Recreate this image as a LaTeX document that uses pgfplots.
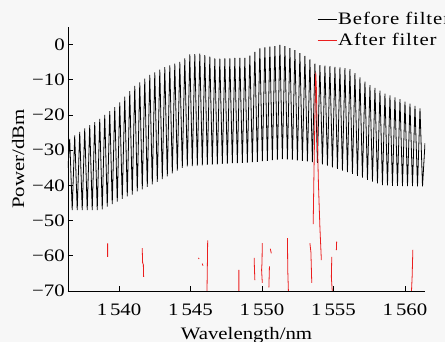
\documentclass[border=0pt]{standalone}
\usepackage{pgfplots}
\pgfplotsset{compat=1.18}
\usepackage{fontspec}
\setmainfont[FakeStretch=1.19]{Liberation Serif}
\newfontfamily\legfont[FakeStretch=1.19,LetterSpace=5]{Liberation Serif}
\definecolor{redtrace}{RGB}{235,30,30}
\begin{document}
\begin{tikzpicture}
\useasboundingbox (0pt,0pt) rectangle (445pt,342pt);
\fill[white!97!black] (0pt,0pt) rectangle (445pt,342pt);
\begin{axis}[
  at={(68pt,51pt)}, anchor=south west,
  scale only axis, width=357pt, height=264pt,
  xmin=1536.43, xmax=1561.4, ymin=-70, ymax=5,
  axis x line*=bottom, axis y line*=left,
  axis line style={line width=0.9pt},
  tick align=inside, major tick length=5pt,
  tick style={line width=0.8pt, black},
  xtick={1540,1545,1550,1555,1560},
  xticklabels={1\,540,1\,545,1\,550,1\,555,1\,560},
  ytick={-70,-60,-50,-40,-30,-20,-10,0},
  yticklabels={−70,−60,−50,−40,−30,−20,−10,0},
  tick label style={font=\fontsize{17.5}{20}\selectfont},
  xticklabel style={anchor=base, yshift=-25pt},
  yticklabel style={anchor=east, inner sep=0pt, xshift=-3pt},
  xlabel={Wavelength/nm},
  ylabel={Power/dBm},
  label style={font=\fontsize{17.5}{20}\selectfont},
  xlabel style={at={(axis description cs:0.5,-0.185)}, anchor=base},
  ylabel style={at={(axis description cs:-0.14,0.5)}, anchor=center, rotate=0},
  legend style={draw=none, fill=none, at={(axis description cs:0.697,0.99)}, anchor=west,
    inner sep=0pt, outer sep=0pt, row sep=5.3pt,
    nodes={inner sep=1pt, font=\fontsize{17.5}{20}\legfont}},
  legend cell align=left,
  legend image code/.code={\draw[#1] (0pt,0pt) -- (19pt,0pt);},
  clip=true,
]
\addlegendimage{draw=black, line width=1pt}
\addlegendentry{Before filter}
\addlegendimage{draw=redtrace, line width=1.4pt}
\addlegendentry{After filter}
\addplot[black, line width=0.8pt, forget plot] table {
1536.43 -35
1536.55 -26.8
1536.725 -47
1536.90 -25.8
1537.075 -47
1537.25 -24.8
1537.425 -47
1537.60 -23.8
1537.775 -47
1537.95 -22.9
1538.125 -47
1538.30 -22.0
1538.475 -47
1538.65 -21.1
1538.825 -46.8
1539.00 -20.0
1539.175 -46.0
1539.35 -18.9
1539.525 -45.3
1539.70 -17.8
1539.875 -44.6
1540.05 -16.4
1540.225 -43.8
1540.40 -14.8
1540.575 -43.1
1540.75 -13.2
1540.925 -42.6
1541.10 -11.7
1541.275 -41.7
1541.45 -10.7
1541.625 -41.1
1541.80 -9.7
1541.975 -40.4
1542.15 -8.6
1542.325 -39.7
1542.50 -7.9
1542.675 -39.0
1542.85 -7.1
1543.025 -38.2
1543.20 -6.4
1543.375 -37.4
1543.55 -5.9
1543.725 -36.6
1543.90 -5.4
1544.075 -35.8
1544.25 -4.9
1544.425 -35.0
1544.60 -3.9
1544.775 -34.6
1544.95 -2.8
1545.125 -34.5
1545.30 -2.7
1545.475 -34.4
1545.65 -2.6
1545.825 -34.3
1546.00 -3.0
1546.175 -34.2
1546.35 -3.4
1546.525 -34.1
1546.70 -3.9
1546.875 -34.0
1547.05 -4.0
1547.225 -33.9
1547.40 -3.9
1547.575 -33.8
1547.75 -3.9
1547.925 -33.7
1548.10 -3.8
1548.275 -33.7
1548.45 -3.8
1548.625 -33.6
1548.80 -3.8
1548.975 -33.5
1549.15 -3.1
1549.325 -33.4
1549.50 -2.1
1549.675 -33.3
1549.85 -1.1
1550.025 -33.1
1550.20 -0.8
1550.375 -33.0
1550.55 -0.6
1550.725 -32.8
1550.90 -0.4
1551.075 -32.7
1551.25 -0.1
1551.425 -32.5
1551.60 -0.4
1551.775 -32.6
1551.95 -1.0
1552.125 -32.7
1552.30 -1.6
1552.475 -32.9
1552.65 -2.4
1552.825 -33.0
1553.00 -3.2
1553.175 -33.2
1553.35 -4.2
1553.525 -33.4
1553.70 -5.4
1553.875 -33.6
1554.05 -5.8
1554.225 -34.0
1554.40 -6.0
1554.575 -34.4
1554.75 -6.1
1554.925 -34.9
1555.10 -6.3
1555.275 -35.3
1555.45 -6.5
1555.625 -35.8
1555.80 -6.7
1555.975 -36.2
1556.15 -7.0
1556.325 -36.7
1556.50 -8.1
1556.675 -37.3
1556.85 -9.3
1557.025 -37.8
1557.20 -10.5
1557.375 -38.4
1557.55 -11.5
1557.725 -38.9
1557.90 -12.3
1558.075 -39.4
1558.25 -13.1
1558.425 -39.9
1558.60 -13.9
1558.775 -40.0
1558.95 -14.4
1559.125 -40.1
1559.30 -15.0
1559.475 -40.1
1559.65 -15.5
1559.825 -40.2
1560.00 -16.2
1560.175 -40.2
1560.35 -16.8
1560.525 -40.2
1560.70 -17.4
1560.875 -40.3
1561.05 -18.1
1561.225 -40.3
1561.40 -28
};
\addplot[redtrace, line width=0.8pt, unbounded coords=jump, forget plot] table {
1539.20 -56.5
1539.20 -60.3
nan nan
1541.62 -57.8
1541.65 -62.0
1541.70 -62.5
1541.72 -66.0
nan nan
1545.55 -60.6
1545.60 -60.9
nan nan
1545.82 -62.2
1545.87 -62.8
nan nan
1546.20 -55.6
1546.18 -62.0
1546.15 -70.5
nan nan
1548.38 -64.0
1548.38 -70.5
nan nan
1549.45 -60.6
1549.47 -63.5
1549.50 -66.9
nan nan
1550.02 -56.4
1550.00 -62.0
1549.97 -64.0
1550.02 -67.7
nan nan
1550.58 -58.0
1550.65 -59.3
nan nan
1550.52 -63.0
1550.48 -69.0
nan nan
1551.78 -55.0
1551.80 -64.0
1551.85 -70.5
nan nan
1553.35 -56.4
1553.42 -59.0
1553.48 -67.7
nan nan
1553.58 -51.0
1553.62 -40.0
1553.68 -25.0
1553.73 -12.0
1553.76 -8.0
1553.80 -12.0
1553.86 -25.0
1553.95 -40.0
1554.05 -52.0
1554.15 -61.2
nan nan
1554.88 -60.3
1554.85 -66.0
1554.92 -70.5
nan nan
1555.22 -56.0
1555.20 -58.4
nan nan
1560.55 -58.3
1560.50 -66.0
1560.45 -70.5
};
\end{axis}
\end{tikzpicture}
\end{document}
